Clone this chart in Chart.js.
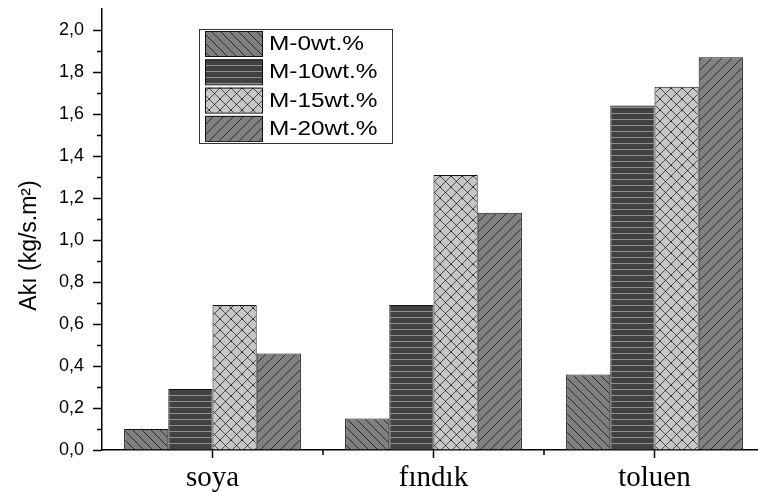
<!DOCTYPE html>
<html>
<head>
<meta charset="utf-8">
<script src="https://cdn.jsdelivr.net/npm/chart.js@4.4.1/dist/chart.umd.min.js"></script>
<style>
  html, body { margin: 0; padding: 0; background: #fff; overflow: hidden; }
  #wrap { position: absolute; left: 0; top: 0; }
</style>
</head>
<body>
<div id="wrap"><canvas id="akiChart" width="770" height="492"></canvas></div>
<script>
// categories and values
const categories = ['soya', 'fındık', 'toluen'];
const seriesNames = ['M-0wt.%', 'M-10wt.%', 'M-15wt.%', 'M-20wt.%'];
const m0 = [0.10, 0.15, 0.36];
const m10 = [0.29, 0.69, 1.64];
const m15 = [0.69, 1.31, 1.73];
const m20 = [0.46, 1.13, 1.87];

// hatch fill for the bars
function makePattern(bg, fg, kind, size) {
  const c = document.createElement('canvas');
  c.width = size;
  c.height = size;
  const g = c.getContext('2d');
  g.fillStyle = bg;
  g.fillRect(0, 0, size, size);
  g.strokeStyle = fg;
  g.lineWidth = 1;
  g.beginPath();
  if (kind === 'back' || kind === 'cross') {
    for (let k = -1; k <= 1; k++) {
      g.moveTo(k * size, 0);
      g.lineTo(k * size + size, size);
    }
  }
  if (kind === 'fwd' || kind === 'cross') {
    for (let k = -1; k <= 1; k++) {
      g.moveTo(k * size, size);
      g.lineTo(k * size + size, 0);
    }
  }
  if (kind === 'horiz') {
    g.moveTo(0, size - 0.5);
    g.lineTo(size, size - 0.5);
  }
  g.stroke();
  if (kind === 'cross') {
    g.fillStyle = '#000';
    g.fillRect(Math.floor(size / 2), Math.floor(size / 2), 1, 1);
    g.fillRect(0, 0, 1, 1);
  }
  return g.createPattern(c, 'repeat');
}

const fills = [
  makePattern('#7f7f7f', '#2b2b2b', 'back', 9),
  makePattern('#414141', '#8e8e8e', 'horiz', 6),
  makePattern('#c6c6c6', '#4a4a4a', 'cross', 11),
  makePattern('#808080', '#2b2b2b', 'fwd', 10)
];

// legend box inside the plot, like the original
const boxLegend = {
  id: 'boxLegend',
  afterDraw(chart) {
    const ctx = chart.ctx;
    const x0 = chart.chartArea.left + 97;
    const y0 = chart.chartArea.top + 20;
    ctx.save();
    ctx.fillStyle = '#fff';
    ctx.fillRect(x0, y0, 193, 114);
    ctx.strokeStyle = '#333';
    ctx.lineWidth = 1;
    ctx.strokeRect(x0 + 0.5, y0 + 0.5, 193, 114);
    chart.data.datasets.forEach((ds, i) => {
      const sy = y0 + 2 + i * 28.3;
      ctx.fillStyle = ds.backgroundColor;
      ctx.fillRect(x0 + 6, sy, 57, 25);
      ctx.strokeStyle = '#111';
      ctx.strokeRect(x0 + 6.5, sy + 0.5, 57, 25);
      ctx.save();
      ctx.translate(x0 + 70, sy + 13.5);
      ctx.scale(1.22, 1);
      ctx.fillStyle = '#000';
      ctx.font = '20px "Liberation Sans", Arial, sans-serif';
      ctx.textBaseline = 'middle';
      ctx.fillText(ds.label, 0, 0);
      ctx.restore();
    });
    ctx.restore();
  }
};

// short minor ticks on both axes
const minorTicks = {
  id: 'minorTicks',
  afterDraw(chart) {
    const ctx = chart.ctx;
    const x = chart.scales.x;
    const y = chart.scales.y;
    ctx.save();
    ctx.strokeStyle = '#000';
    ctx.lineWidth = 1.5;
    ctx.beginPath();
    for (let v = 1; v <= 19; v += 2) {
      const py = Math.round(y.getPixelForValue(v / 10)) + 0.5;
      ctx.moveTo(y.right - 5, py);
      ctx.lineTo(y.right, py);
    }
    for (let i = 0; i < categories.length; i++) {
      const px = (x.getPixelForValue(i) + x.getPixelForValue(i + 1)) / 2;
      ctx.moveTo(px, x.top);
      ctx.lineTo(px, x.top + 5);
    }
    ctx.stroke();
    ctx.restore();
  }
};

new Chart(document.getElementById('akiChart'), {
  type: 'bar',
  data: {
    labels: categories,
    datasets: [m0, m10, m15, m20].map((vals, i) => ({
      label: seriesNames[i],
      data: vals,
      backgroundColor: fills[i],
      borderColor: '#111',
      borderWidth: 1,
      categoryPercentage: 0.8,
      barPercentage: 1.0
    }))
  },
  options: {
    responsive: false,
    animation: false,
    devicePixelRatio: 1,
    layout: { padding: { top: 9, right: 5, left: 0, bottom: 0 } },
    plugins: {
      legend: { display: false },
      tooltip: { enabled: false }
    },
    scales: {
      x: {
        afterFit(scale) {
          scale.height = 42;
          scale.paddingLeft = 0;
          scale.paddingRight = 0;
        },
        grid: {
          drawOnChartArea: false,
          offset: false,
          tickLength: 8,
          tickColor: '#000',
          tickWidth: 1.5
        },
        border: { display: true, color: '#000', width: 1.5 },
        ticks: {
          color: '#000',
          padding: 3,
          maxRotation: 0,
          font: { family: '"Liberation Serif", "Times New Roman", serif', size: 29 }
        }
      },
      y: {
        min: 0,
        max: 2.1,
        afterFit(scale) {
          scale.width = 102;
          scale.paddingTop = 0;
          scale.paddingBottom = 0;
        },
        grid: {
          drawOnChartArea: false,
          tickLength: 9,
          tickColor: '#000',
          tickWidth: 1.5
        },
        border: { display: true, color: '#000', width: 1.5 },
        ticks: {
          stepSize: 0.2,
          includeBounds: false,
          color: '#000',
          padding: 9,
          font: { family: '"Liberation Sans", Arial, sans-serif', size: 18 },
          callback: v => v.toFixed(1).replace('.', ',')
        },
        title: {
          display: true,
          text: 'Akı (kg/s.m²)     ',
          color: '#000',
          padding: { top: 16, bottom: 0 },
          font: { family: '"Liberation Sans", Arial, sans-serif', size: 23 }
        }
      }
    }
  },
  plugins: [boxLegend, minorTicks]
});
</script>
</body>
</html>
